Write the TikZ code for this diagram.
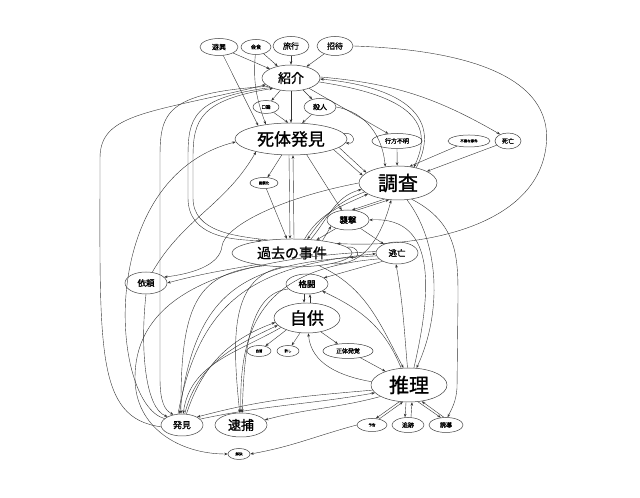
\documentclass[tikz,border=0pt]{standalone}
\usepackage{fontspec}
\setmainfont{Noto Sans CJK JP}[BoldFont={Noto Sans CJK JP},BoldFeatures={FakeBold=1.2}]
\usetikzlibrary{shapes.geometric,arrows.meta}
\tikzset{
  nd/.style={ellipse, draw=black!75, line width=0.5pt, inner sep=0pt, text=black},
  e/.style={-{Stealth[length=3.5pt,width=2.6pt]}, draw=black!80, line width=0.4pt}
}
\newcommand\mynd[7]{\node[nd,minimum width=#4bp,minimum height=#5bp,font=\fontsize{#6}{#6}\selectfont\bfseries] (#1) at (#2,#3) {#7};}
\begin{document}
\begin{tikzpicture}[x=1bp,y=1bp]
\useasboundingbox[fill=white] (0,0) rectangle (640,498);
% nodes
\mynd{yuko}{219}{451}{38}{17}{7}{遊興}
\mynd{kaishoku}{256}{451}{30}{15}{5}{会食}
\mynd{ryoko}{291}{452}{36}{19}{8}{旅行}
\mynd{shotai}{335}{452}{36}{19}{8}{招待}
\mynd{shokai}{291}{420}{58}{26}{13}{紹介}
\mynd{koron}{266}{391}{26}{13}{4.5}{口論}
\mynd{satsujin}{320}{391}{32}{17}{7}{殺人}
\mynd{shitai}{291}{359}{112}{32}{17}{死体発見}
\mynd{yukue}{397}{357}{50}{15}{6}{行方不明}
\mynd{fushin}{469}{357}{42}{12}{3.5}{不審な事件}
\mynd{shibo}{508}{357}{26}{16}{6}{死亡}
\mynd{chosa}{398}{315}{78}{34}{20}{調査}
\mynd{heisa}{264}{315}{28}{11}{3.5}{閉鎖化}
\mynd{shugeki}{348}{278}{42}{20}{8.5}{襲撃}
\mynd{kako}{292}{245}{120}{28}{14}{過去の事件}
\mynd{tobo}{397}{245}{42}{22}{8.5}{逃亡}
\mynd{irai}{146}{215}{42}{22}{8.5}{依頼}
\mynd{kakuto}{307}{214}{42}{20}{8.5}{格闘}
\mynd{jikyo}{307}{180}{66}{30}{17}{自供}
\mynd{jishu}{259}{147}{24}{11}{3.5}{自首}
\mynd{yurushi}{288}{147}{22}{11}{3.5}{許し}
\mynd{shotaib}{348}{147}{50}{15}{6}{正体発覚}
\mynd{suiri}{409}{113}{76}{34}{20}{推理}
\mynd{hakken}{182}{73}{42}{22}{9}{発見}
\mynd{taiho}{241}{73}{52}{24}{13}{逮捕}
\mynd{yokoku}{372}{73}{30}{13}{3.5}{予告}
\mynd{tsuiseki}{408}{73}{32}{15}{6}{追跡}
\mynd{yudo}{446}{73}{34}{15}{6}{誘導}
\mynd{kaiketsu}{239}{44}{22}{11}{3.5}{解決}
% top edges
\draw[e] (yuko) -- (shokai);
\draw[e] (yuko) -- (shitai.158);
\draw[e] (kaishoku) -- (shokai);
\draw[e] (kaishoku) to[out=-95,in=110] (shitai.150);
\draw[e] (ryoko) -- (shokai);
\draw[e] (shotai) -- (shokai);
\draw[e] (shotai.east) .. controls (470,448) and (560,420) .. (545,345) .. controls (530,270) and (420,250) .. (kako.12);
\draw[e] (shokai) -- (koron);
\draw[e] (shokai) -- (satsujin);
\draw[e] (shokai) -- (shitai);
\draw[e] (shokai) -- (yukue.140);
\draw[e] (shokai.-8) .. controls (390,405) and (440,385) .. (chosa.45);
\draw[e] (chosa.40) .. controls (445,385) and (395,412) .. (shokai.-2);
\draw[e] (shokai.2) to[out=-5,in=150] (shibo.140);
\draw[e] (satsujin.east) to[out=-10,in=95] (chosa.128);
\draw[e] (koron) -- (shitai.100);
\draw[e] (satsujin) -- (shitai.55);
\draw[e] (shitai.6) to[out=10,in=-10,looseness=3] (shitai.-4);
\draw[e] (yukue) -- (chosa.93);
\draw[e] (fushin) -- (chosa.55);
\draw[e] (shibo) -- (chosa.22);
% middle
\draw[e] (shitai.-120) -- (heisa);
\draw[e] (heisa) -- (kako.110);
\draw[e] ([xshift=-2]shitai.south) -- ([xshift=-2]kako.north);
\draw[e] ([xshift=2]kako.north) -- ([xshift=2]shitai.south);
\draw[e] (shitai.-45) -- (shugeki);
\draw[e] (shitai.-14) -- (chosa.168);
\draw[e] (shitai.-10) -- (chosa.162);
\draw[e] (irai.60) to[out=60,in=-120] (shitai.200);
\draw[e] (hakken.160) .. controls (110,95) and (95,320) .. (shitai.183);
\draw[e] (hakken.185) .. controls (95,80) and (100,150) .. (100,340) .. controls (100,385) and (150,385) .. (shokai.195);
\draw[e] (shokai.200) .. controls (165,405) and (160,385) .. (160,340) -- (160,120) .. controls (160,95) and (165,88) .. (hakken.130);
\draw[e] (shokai.205) .. controls (192,400) and (188,380) .. (188,340) -- (188,300) .. controls (188,262) and (230,258) .. (kako.158);
\draw[e] (kako.152) .. controls (235,262) and (193,266) .. (193,300) -- (193,340) .. controls (193,378) and (200,398) .. (shokai.210);
\draw[e] (chosa.230) -- (shugeki.68);
\draw[e] (shugeki.50) -- (chosa.242);
\draw[e] (kako.48) to[out=60,in=205] (chosa.200);
\draw[e] (chosa.195) to[out=200,in=55] (kako.42);
\draw[e] (kako.36) to[out=50,in=195] (chosa.190);
\draw[e] (shugeki.215) -- (kako.28);
\draw[e] (kako.22) -- (shugeki.200);
\draw[e] (shugeki) -- (tobo);
\draw[e] (kako.6) to[out=10,in=-10,looseness=3] (kako.-4);
\draw[e] (kako.198) to[out=190,in=15] (irai.east);
\draw[e] (chosa.180) .. controls (280,300) and (225,272) .. (222,252) .. controls (220,232) and (190,224) .. (irai.18);
\draw[e] (kako.-15) to[out=-5,in=-105] (chosa.-112);
\draw[e] (tobo.210) -- (kakuto.20);
% lower
\draw[e] (suiri.95) to[out=95,in=-80] (tobo.-95);
\draw[e] (chosa.-62) .. controls (440,255) and (442,185) .. (suiri.66);
\draw[e] (chosa.-50) .. controls (458,275) and (458,240) .. (458,200) -- (457,110) .. controls (456,96) and (452,90) .. (yudo.78);
\draw[e] (suiri.74) .. controls (430,200) and (440,282) .. (shugeki.east);
\draw[e] (suiri.115) to[out=112,in=-25] (kakuto.-25);
\draw[e] (suiri.175) to[out=170,in=-85] (jikyo.-85);
\draw[e] (kako.-25) to[out=-25,in=118] (suiri.108);
\draw[e] ([xshift=-3]kakuto.south) -- ([xshift=-3]jikyo.north);
\draw[e] ([xshift=3]jikyo.north) -- ([xshift=3]kakuto.south);
\draw[e] (jikyo.-150) -- (jishu);
\draw[e] (jikyo.-115) -- (yurushi);
\draw[e] (jikyo.-45) -- (shotaib);
\draw[e] (shotaib) -- (suiri.150);
\draw[e] (suiri.-120) -- (yokoku.60);
\draw[e] (yokoku.40) -- (suiri.-110);
\draw[e] ([xshift=-3]suiri.south) -- ([xshift=-3]tsuiseki.north);
\draw[e] ([xshift=3]tsuiseki.north) -- ([xshift=3]suiri.south);
\draw[e] (suiri.-62) -- (yudo.125);
\draw[e] (yudo.105) -- (suiri.-52);
\draw[e] (yokoku.west) to[out=195,in=10] (kaiketsu.east);
\draw[e] (suiri.188) to[out=185,in=15] (hakken.28);
\draw[e] (hakken.18) to[out=12,in=190] (suiri.193);
\draw[e] (suiri.202) to[out=195,in=15] (taiho.12);
\draw[e] (hakken.68) to[out=72,in=200] (jikyo.188);
\draw[e] (hakken.76) to[out=76,in=205] (jikyo.194);
\draw[e] (jikyo.200) to[out=210,in=82] (hakken.84);
\draw[e] (kako.205) .. controls (200,225) and (180,200) .. (hakken.95);
\draw[e] (tobo.188) .. controls (250,236) and (196,215) .. (hakken.102);
\draw[e] (hakken.110) .. controls (200,200) and (255,232) .. (tobo.182);
\draw[e] (kako.235) .. controls (230,220) and (232,160) .. (taiho.96);
\draw[e] (tobo.198) .. controls (270,230) and (238,180) .. (taiho.90);
\draw[e] (kakuto.195) .. controls (250,205) and (244,150) .. (taiho.84);
\draw[e] (tobo.176) .. controls (240,240) and (135,210) .. (135,120) .. controls (135,70) and (180,44) .. (kaiketsu.west);
\draw[e] (irai.-90) .. controls (140,150) and (145,90) .. (hakken.150);
\end{tikzpicture}
\end{document}
